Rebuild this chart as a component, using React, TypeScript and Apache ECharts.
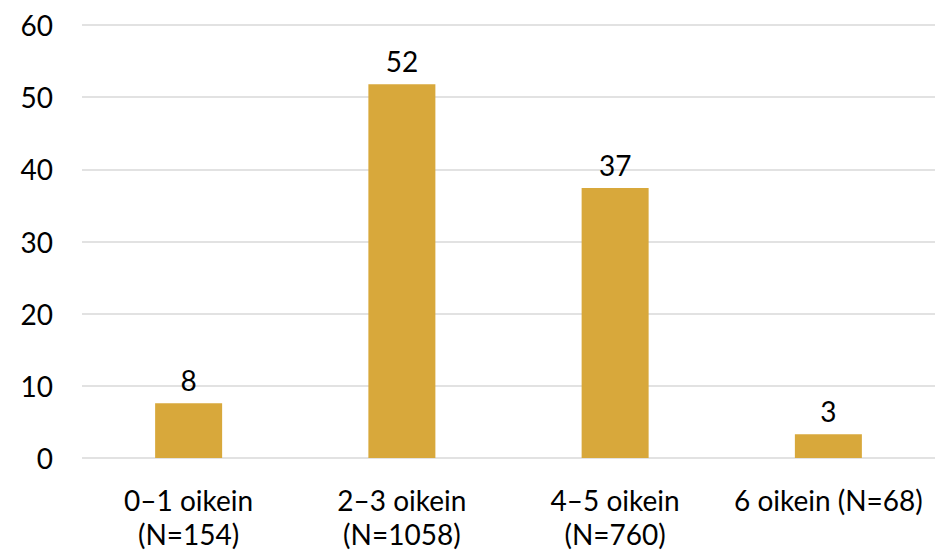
import React, { useEffect, useRef } from "react";
import * as echarts from "echarts";

const categories = ["0–1 oikein\n(N=154)", "2–3 oikein\n(N=1058)", "4–5 oikein\n(N=760)", "6 oikein (N=68)"];
const values = [7.6, 51.8, 37.4, 3.3];
const yTicks = { min: 0, max: 60, interval: 10 };

export default function App() {
  const ref = useRef<HTMLDivElement>(null);
  useEffect(() => {
    if (!ref.current) return;
    const chart = echarts.init(ref.current, undefined, { renderer: "svg" });
    const font = "Lato, 'Open Sans', sans-serif";
    chart.setOption({
      animation: false,
      grid: { left: 82, right: 0, top: 25, bottom: 95 },
      xAxis: {
        type: "category",
        data: categories,
        axisLine: { show: false },
        axisTick: { show: false },
        axisLabel: { color: "#000", fontSize: 28, fontFamily: font, lineHeight: 34, margin: 25, interval: 0 },
      },
      yAxis: {
        type: "value",
        min: yTicks.min,
        max: yTicks.max,
        interval: yTicks.interval,
        axisLine: { show: false },
        axisTick: { show: false },
        splitLine: { lineStyle: { color: "#d9d9d9", width: 1.5 } },
        axisLabel: { color: "#000", fontSize: 28, fontFamily: font, margin: 29 },
      },
      series: [
        {
          type: "bar",
          data: values,
          barWidth: 67,
          itemStyle: { color: "#D8A83B" },
          label: {
            show: true,
            position: "top",
            distance: 9,
            color: "#000",
            fontSize: 28,
            fontFamily: font,
            formatter: (p: any) => String(Math.round(p.value)),
          },
        },
      ],
    });
    return () => chart.dispose();
  }, []);
  return <div ref={ref} style={{ position: "fixed", left: 0, top: 0, width: 935, height: 553, background: "#fff" }} />;
}
